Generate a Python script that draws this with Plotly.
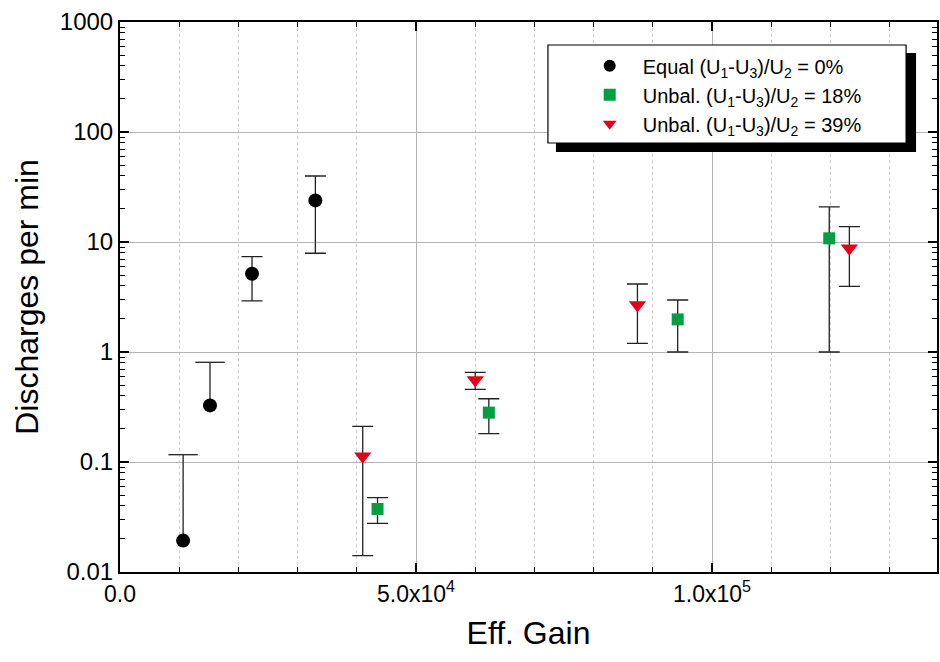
import plotly.graph_objects as go

# ---- data ----
eq_x = [10660, 15200, 22300, 33000]
eq_y = [0.0193, 0.327, 5.15, 23.9]
eq_hi = [0.1165, 0.806, 7.35, 39.8]
eq_lo = [None, None, 2.91, 7.9]   # None: only the upper bar is drawn

u18_x = [43500, 62300, 94200, 119800]
u18_y = [0.0374, 0.281, 1.98, 10.8]
u18_hi = [0.0474, 0.376, 2.97, 20.9]
u18_lo = [0.0277, 0.181, 1.0, 1.0]

u39_x = [41000, 60000, 87400, 123200]
u39_y = [0.113, 0.557, 2.67, 8.77]
u39_hi = [0.211, 0.654, 4.15, 13.8]
u39_lo = [0.01406, 0.458, 1.2, 3.95]

names = [
    "Equal (U<sub>1</sub>-U<sub>3</sub>)/U<sub>2</sub> = 0%",
    "Unbal. (U<sub>1</sub>-U<sub>3</sub>)/U<sub>2</sub> = 18%",
    "Unbal. (U<sub>1</sub>-U<sub>3</sub>)/U<sub>2</sub> = 39%",
]
colors = ["black", "#00a040", "#e2001a"]

y_tickvals = [0.01, 0.1, 1, 10, 100, 1000]
y_ticktext = ["0.01", "0.1", "1", "10", "100", "1000"]
x_tickvals = [0, 50000, 100000]
x_ticktext = ["0.0", "5.0x10<sup>4</sup>", "1.0x10<sup>5</sup>"]

FONT = "Liberation Sans, Arial, sans-serif"
ERRC = "#222222"
ERRW = 1.3
CAP = 10.5


def err(y, hi, lo, width=CAP):
    return dict(type="data", symmetric=False,
                array=[h - v for h, v in zip(hi, y)],
                arrayminus=[v - l for v, l in zip(y, lo)],
                color=ERRC, thickness=ERRW, width=width)


fig = go.Figure()

# Equal: points with full error bars and points with only an upper bar
full = [i for i, l in enumerate(eq_lo) if l is not None]
half = [i for i, l in enumerate(eq_lo) if l is None]

# upper-only bars: bar without caps + a cap marker at the top
fig.add_trace(go.Scatter(
    x=[eq_x[i] for i in half], y=[eq_y[i] for i in half], mode="markers",
    marker=dict(symbol="circle", size=14, color="black"), showlegend=False,
    hoverinfo="skip",
    error_y=err([eq_y[i] for i in half], [eq_hi[i] for i in half],
                [eq_y[i] for i in half], width=0)))
fig.add_trace(go.Scatter(
    x=[eq_x[i] for i in half], y=[eq_hi[i] for i in half], mode="markers",
    marker=dict(symbol="line-ew", size=2 * CAP, line=dict(color=ERRC, width=ERRW)),
    showlegend=False, hoverinfo="skip"))

fig.add_trace(go.Scatter(
    x=[eq_x[i] for i in full], y=[eq_y[i] for i in full], mode="markers", name=names[0],
    marker=dict(symbol="circle", size=14, color=colors[0]),
    error_y=err([eq_y[i] for i in full], [eq_hi[i] for i in full],
                [eq_lo[i] for i in full])))
fig.add_trace(go.Scatter(x=u18_x, y=u18_y, mode="markers", name=names[1],
                         marker=dict(symbol="square", size=12, color=colors[1]),
                         error_y=err(u18_y, u18_hi, u18_lo)))
fig.add_trace(go.Scatter(x=u39_x, y=u39_y, mode="markers", name=names[2],
                         marker=dict(symbol="triangle-down", size=15, color=colors[2]),
                         error_y=err(u39_y, u39_hi, u39_lo)))

minor_y = [m * 10 ** e for e in range(-2, 3) for m in range(2, 10)]

fig.update_layout(
    width=940, height=662,
    margin=dict(l=120, r=1, t=22, b=90),
    paper_bgcolor="white", plot_bgcolor="white",
    font=dict(family=FONT, color="black"),
    showlegend=True,
    legend=dict(x=0.559, y=0.956, xanchor="left", yanchor="top",
                bgcolor="rgba(0,0,0,0)", borderwidth=0, itemwidth=56,
                font=dict(size=20, family=FONT), tracegroupgap=0,
                itemsizing="constant"),
    xaxis=dict(
        range=[0, 138000], tickmode="array", tickvals=x_tickvals, ticktext=x_ticktext,
        ticks="inside", ticklen=9, tickwidth=1.5, tickcolor="black",
        showline=True, linecolor="black", linewidth=2, mirror="allticks",
        showgrid=True, gridcolor="#b4b4b4", gridwidth=1,
        minor=dict(dtick=10000, tick0=0, ticks="inside", ticklen=5, tickwidth=1.2,
                   tickcolor="black", showgrid=True, gridcolor="#cccccc", griddash="dot",
                   gridwidth=1),
        tickfont=dict(size=23, family=FONT),
        title=dict(text="Eff. Gain", font=dict(size=32, family=FONT), standoff=16),
        zeroline=False,
    ),
    yaxis=dict(
        type="log", range=[-2, 3], tickmode="array", tickvals=y_tickvals, ticktext=y_ticktext,
        ticks="inside", ticklen=9, tickwidth=1.5, tickcolor="black",
        showline=True, linecolor="black", linewidth=2, mirror="allticks",
        showgrid=True, gridcolor="#b4b4b4", gridwidth=1,
        minor=dict(tickmode="array", tickvals=minor_y, ticks="inside", ticklen=5,
                   tickwidth=1.2, tickcolor="black", showgrid=False),
        tickfont=dict(size=24, family=FONT),
        title=dict(text="Discharges per min", font=dict(size=32, family=FONT), standoff=12),
        zeroline=False,
    ),
    shapes=[
        dict(type="rect", xref="paper", yref="paper", layer="above",
             x0=(557 - 120) / 819, x1=(918 - 120) / 819,
             y0=(572 - 152) / 550, y1=(572 - 53) / 550,
             fillcolor="black", line=dict(width=0)),
        dict(type="rect", xref="paper", yref="paper", layer="above",
             x0=(549 - 120) / 819, x1=(908 - 120) / 819,
             y0=(572 - 143) / 550, y1=(572 - 45) / 550,
             fillcolor="white", line=dict(color="black", width=1.2)),
    ],
)

fig.write_html("out.html")
